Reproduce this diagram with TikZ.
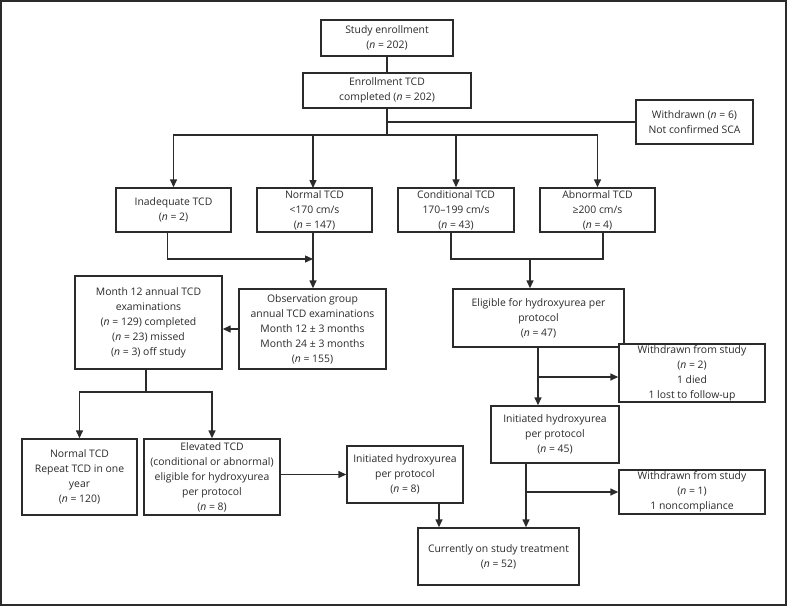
\documentclass[tikz,border=0pt]{standalone}
\usepackage{fontspec}
\setmainfont{Open Sans}
\usetikzlibrary{arrows.meta}
\definecolor{ln}{HTML}{2B2B2B}
\tikzset{
  box/.style={draw=ln, line width=1.4pt, fill=white, align=center, inner sep=1pt,
    font=\fontsize{10.4pt}{15pt}\selectfont, text=ln},
  conn/.style={draw=ln, line width=1.4pt},
  arr/.style={conn, -{Triangle[length=8pt,width=7pt]}}
}
\newcommand{\nn}{\textit{n}}
\begin{document}
\begin{tikzpicture}[x=1pt,y=-1pt]
\useasboundingbox (0,0) rectangle (787,606);
\draw[ln, line width=2pt] (1,1) rectangle (786,605);
% boxes
\node[box, minimum width=132pt, minimum height=36pt] (enroll) at (387,38) {Study enrollment\\(\nn{} = 202)};
\node[box, minimum width=168pt, minimum height=35pt] (tcd) at (387,90.5) {Enrollment TCD\\completed (\nn{} = 202)};
\node[box, minimum width=117pt, minimum height=44pt] (wd6) at (694.5,122) {Withdrawn (\nn{} = 6)\\Not confirmed SCA};
\node[box, minimum width=115pt, minimum height=44pt] (inad) at (173.5,210) {Inadequate TCD\\(\nn{} = 2)};
\node[box, minimum width=115pt, minimum height=44pt] (normal) at (314.5,210) {Normal TCD\\<170 cm/s\\(\nn{} = 147)};
\node[box, minimum width=116pt, minimum height=44pt] (cond) at (456,210) {Conditional TCD\\170–199 cm/s\\(\nn{} = 43)};
\node[box, minimum width=115pt, minimum height=44pt] (abn) at (597.5,210) {Abnormal TCD\\≥200 cm/s\\(\nn{} = 4)};
\node[box, minimum width=147pt, minimum height=80pt] (obs) at (312.5,329) {Observation group\\annual TCD examinations\\Month 12 ± 3 months\\Month 24 ± 3 months\\(\nn{} = 155)};
\node[box, minimum width=147pt, minimum height=93pt] (m12) at (148.5,322.5) {Month 12 annual TCD\\examinations\\(\nn{} = 129) completed\\(\nn{} = 23) missed\\(\nn{} = 3) off study};
\node[box, minimum width=115pt, minimum height=76pt] (rep) at (79.5,477) {Normal TCD\\Repeat TCD in one\\year\\(\nn{} = 120)};
\node[box, minimum width=136pt, minimum height=76pt] (elev) at (212,477) {Elevated TCD\\(conditional or abnormal)\\eligible for hydroxyurea\\per protocol\\(\nn{} = 8)};
\node[box, minimum width=116pt, minimum height=57pt] (init8) at (405,474.5) {Initiated hydroxyurea\\per protocol\\(\nn{} = 8)};
\node[box, minimum width=161pt, minimum height=57pt] (cur) at (498.5,556.5) {Currently on study treatment\\(\nn{} = 52)};
\node[box, minimum width=171pt, minimum height=58pt] (elig) at (538.5,318) {Eligible for hydroxyurea per\\protocol\\(\nn{} = 47)};
\node[box, minimum width=146pt, minimum height=58pt] (wd2) at (692,373) {Withdrawn from study\\(\nn{} = 2)\\1 died\\1 lost to follow-up};
\node[box, minimum width=128pt, minimum height=57pt] (init45) at (555,434.5) {Initiated hydroxyurea\\per protocol\\(\nn{} = 45)};
\node[box, minimum width=146pt, minimum height=44pt] (wd1) at (692,492) {Withdrawn from study\\(\nn{} = 1)\\1 noncompliance};
% junctions
\coordinate (bus) at (387,135);
\coordinate (wj) at (387,122);
\coordinate (ij) at (313,259);
\coordinate (cj) at (451,259);
\coordinate (aj) at (603,259);
\coordinate (ej) at (530,259);
\coordinate (mj) at (146,392);
\coordinate (e2) at (538,377);
\coordinate (i2) at (526,492);
% connectors
\draw[conn] (enroll.south) -- (tcd.south |- tcd.north);
\draw[conn] (tcd.south) -- (bus);
\draw[conn] (wj) -- (wd6.west);
\draw[arr] (bus) -| (inad.north);
\draw[arr] (bus) -| (313,188);
\draw[arr] (bus) -| (cond.north);
\draw[arr] (bus) -| (abn.north);
\draw[arr] ([xshift=-6pt]inad.south) |- (ij);
\draw[arr] (313,232) -- (obs.north -| ij);
\draw[arr] (obs.west) -- (m12.east |- obs.west);
\draw[conn] (m12.south -| mj) -- (mj);
\draw[arr] (mj) -| (rep.north);
\draw[arr] (mj) -| (elev.north);
\draw[arr] (elev.east |- init8.west) -- (init8.west);
\draw[arr] (cur.north -| 439,0) ++(0,-25) -- (cur.north -| 439,0);
\draw[conn] (cond.south -| cj) -- (cj) -- (aj) -- (abn.south -| aj);
\draw[arr] (ej) -- (elig.north -| ej);
\draw[arr] (elig.south -| e2) -- (init45.north -| e2);
\draw[arr] (e2) -- (wd2.west |- e2);
\draw[arr] (init45.south -| i2) -- (cur.north -| i2);
\draw[arr] (i2) -- (wd1.west |- i2);
\end{tikzpicture}
\end{document}
